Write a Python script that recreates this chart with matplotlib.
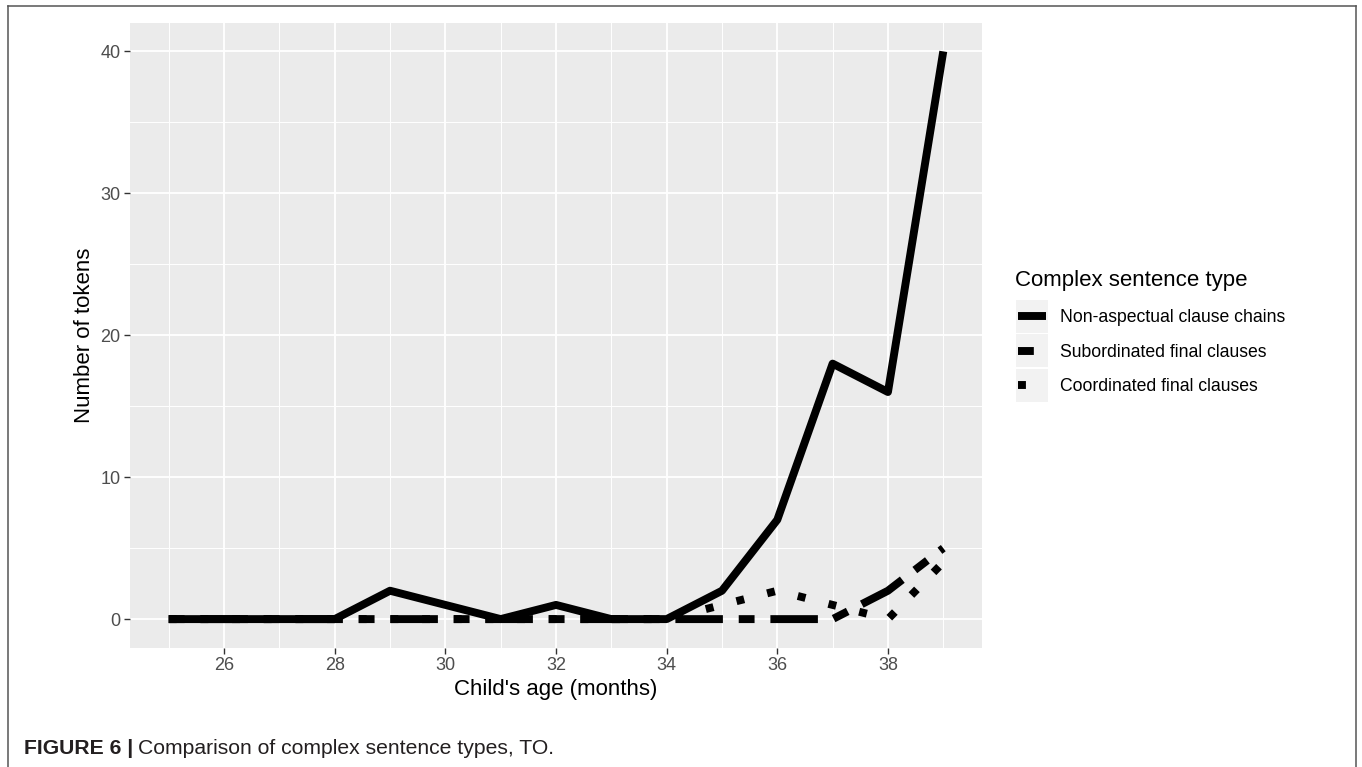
import matplotlib
matplotlib.use("Agg")
import matplotlib.pyplot as plt
from matplotlib.lines import Line2D
from matplotlib.patches import Rectangle

plt.rcParams['font.family'] = ['Liberation Sans', 'DejaVu Sans']

# ---------------- data ----------------
ages = [25, 26, 27, 28, 29, 30, 31, 32, 33, 34, 35, 36, 37, 38, 39]
non_aspectual = [0, 0, 0, 0, 2, 1, 0, 1, 0, 0, 2, 7, 18, 16, 40]
subordinated = [0, 0, 0, 0, 0, 0, 0, 0, 0, 0, 0, 0, 0, 2, 5]
coordinated = [0, 0, 0, 0, 0, 0, 0, 0, 0, 0, 1, 2, 1, 0, 4]
series_names = ["Non-aspectual clause chains", "Subordinated final clauses",
                "Coordinated final clauses"]
x_ticks = [26, 28, 30, 32, 34, 36, 38]
y_ticks = [0, 10, 20, 30, 40]
legend_title = "Complex sentence type"
x_title = "Child's age (months)"
y_title = "Number of tokens"
caption_bold = "FIGURE 6 |"
caption_text = "Comparison of complex sentence types, TO."

# ---------------- layout ----------------
W, H = 1362, 767
fig = plt.figure(figsize=(W / 100, H / 100), dpi=100)


def fx(px):
    return px / W


def fy(py):
    return 1 - py / H


left, right, top, bottom = 130, 982, 23, 647.5
ax = fig.add_axes([fx(left), fy(bottom), (right - left) / W, (bottom - top) / H])
ax.set_facecolor('#EBEBEB')
for s in ax.spines.values():
    s.set_visible(False)

ax.set_xlim(24.3, 39.7)
ax.set_ylim(-2, 42)
ax.set_xticks(x_ticks)
ax.set_xticks([25, 27, 29, 31, 33, 35, 37, 39], minor=True)
ax.set_yticks(y_ticks)
ax.set_yticks([5, 15, 25, 35], minor=True)
ax.grid(which='major', color='white', lw=1.3)
ax.grid(which='minor', color='white', lw=0.7)
ax.set_axisbelow(True)
ax.tick_params(which='major', length=4, width=1.0, color='#333333',
               labelcolor='#4D4D4D', labelsize=13, pad=3)
ax.tick_params(which='minor', length=0)

LW = 5.7
styles = [
    dict(linestyle='-'),
    dict(linestyle=(0, (2, 2, 6, 2))),
    dict(linestyle=(0, (1, 3))),
]
for vals, st in zip([non_aspectual, subordinated, coordinated], styles):
    ax.plot(ages, vals, color='black', lw=LW, solid_capstyle='butt',
            dash_capstyle='butt', solid_joinstyle='round', dash_joinstyle='round',
            clip_on=False, **st)

ax.set_xlabel(x_title, fontsize=16, va='center', color='black')
ax.xaxis.set_label_coords(0.5, -(689 - bottom) / (bottom - top))
ax.set_ylabel(y_title, fontsize=16, va='center', color='black')
ax.yaxis.set_label_coords((85 - left) / (right - left), 0.5)

# ---------------- legend ----------------
fig.text(fx(1015), fy(281), legend_title, fontsize=16, ha='left', va='center')
box_tops = [300, 334.3, 369]
box_h = 32.7
for name, st, bt in zip(series_names, styles, box_tops):
    fig.patches.append(Rectangle((fx(1015.7), fy(bt + box_h)), 32.6 / W, box_h / H,
                                 transform=fig.transFigure, facecolor='#F2F2F2',
                                 edgecolor='none'))
    cy = bt + box_h / 2
    fig.lines.append(Line2D([fx(1017.7), fx(1046.3)], [fy(cy), fy(cy)],
                            transform=fig.transFigure, color='black', lw=LW,
                            solid_capstyle='butt', dash_capstyle='butt', **st))
    fig.text(fx(1060), fy(cy + 1.5), name, fontsize=12.7, ha='left', va='center')

# ---------------- border ----------------
bc = '#555555'
fig.lines.append(Line2D([fx(8), fx(8)], [fy(6), fy(H + 5)], transform=fig.transFigure,
                        color=bc, lw=1.1))
fig.lines.append(Line2D([fx(8), fx(1356)], [fy(6), fy(6)], transform=fig.transFigure,
                        color=bc, lw=1.1))
fig.lines.append(Line2D([fx(1356), fx(1356)], [fy(6), fy(H + 5)], transform=fig.transFigure,
                        color=bc, lw=1.1))

# ---------------- caption ----------------
cap_font = ['Liberation Sans Narrow', 'Liberation Sans', 'DejaVu Sans']
t1 = fig.text(fx(24), fy(749), caption_bold, fontsize=15.2, fontweight='bold',
              family=cap_font, ha='left', va='center', color='#231F20')
r = fig.canvas.get_renderer()
bb = t1.get_window_extent(renderer=r)
fig.text((bb.x1 + 5) / W, fy(749), caption_text, fontsize=15.2, family=cap_font,
         ha='left', va='center', color='#231F20')

fig.savefig('out.png', dpi=100)
